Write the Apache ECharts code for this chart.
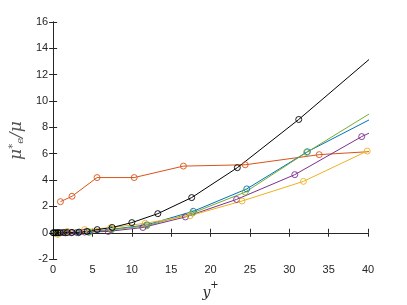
<!DOCTYPE html>
<html><head><meta charset="utf-8">
<script src="https://cdn.jsdelivr.net/npm/echarts@6/dist/echarts.min.js"></script>
<style>html,body{margin:0;padding:0;background:#fff}#c{width:407px;height:305px}</style>
</head><body><div id="c"></div>
<script>
// Data: [y+, mu_e*/mu]
const blackData = [[0,0],[0.15,0],[0.35,0],[0.6,0],[0.9,0.01],[1.3,0.02],[1.8,0.02],[2.4,0.03],[3.3,0.05],[4.3,0.1],[5.6,0.24],[7.5,0.4],[10.0,0.77],[13.3,1.45],[17.6,2.67],[23.4,4.94],[31.2,8.6],[41.5,13.85]];
const orangeData = [[0.93,2.36],[2.4,2.77],[5.58,4.19],[10.3,4.19],[16.55,5.06],[24.4,5.16],[33.8,5.93],[45,6.33]];
const yellowData = [[0.6,-0.12],[1.8,0.1],[4.0,0.24],[7.3,0.38],[11.7,0.72],[17.4,1.3],[24.0,2.41],[31.8,3.9],[39.9,6.2]];
const purpleData = [[0.7,0],[1.6,0],[2.3,0],[3.2,0],[4.0,0.05],[7.0,0.1],[11.4,0.4],[16.8,1.2],[23.3,2.53],[30.7,4.41],[39.2,7.3],[41.5,7.95]];
const blueData = [[0.5,0],[1.5,0],[3.0,0.02],[4.5,0.05],[7.3,0.25],[11.9,0.6],[17.8,1.63],[24.6,3.33],[32.3,6.15],[43,9.45]];
const greenData = [[0.5,0],[1.6,0],[3.1,0.02],[4.6,0.05],[7.4,0.22],[11.9,0.53],[17.7,1.5],[24.4,3.08],[32.2,6.1],[42,9.7]];
const xTicks = [0,5,10,15,20,25,30,35,40];
const yTicks = [-2,0,2,4,6,8,10,12,14,16];

const axisCol = '#262626';
const font = 'Liberation Sans, Helvetica, Arial, sans-serif';
function mk(name, data, color) {
  return {name, type:'line', data, clip:true, symbol:'circle', symbolSize:6,
    lineStyle:{color, width:1},
    itemStyle:{color:'rgba(0,0,0,0)', borderColor:color, borderWidth:0.9}, animation:false};
}
const chart = echarts.init(document.getElementById('c'));
const axBase = {axisLine:{lineStyle:{color:axisCol,width:1}}, splitLine:{show:false}};
chart.setOption({
  animation:false,
  grid:{left:53, right:39, top:22, bottom:34},
  xAxis:[
    Object.assign({type:'value', min:xTicks[0], max:xTicks[xTicks.length-1], interval:5,
      axisTick:{inside:true, length:4, lineStyle:{color:axisCol}},
      axisLabel:{color:axisCol, fontSize:11, fontFamily:font, margin:5},
      name:'{i|y}{s|+}', nameLocation:'middle', nameGap:19,
      nameTextStyle:{rich:{i:{fontFamily:'DejaVu Serif, serif', fontStyle:'italic', fontSize:14, color:axisCol, verticalAlign:'bottom'},
                           s:{fontFamily:'DejaVu Sans, sans-serif', fontSize:10, color:axisCol, verticalAlign:'top', padding:[0,0,10,0]}}}
    }, axBase),
    Object.assign({type:'value', position:'top', min:0, max:40, interval:5,
      axisTick:{inside:true, length:4, lineStyle:{color:axisCol}}, axisLabel:{show:false}}, axBase)
  ],
  yAxis:[
    Object.assign({type:'value', min:yTicks[0], max:yTicks[yTicks.length-1], interval:2,
      axisTick:{inside:true, length:4, lineStyle:{color:axisCol}},
      axisLabel:{color:axisCol, fontSize:11, fontFamily:font, margin:5},
      name:'{m|μ}{sp|*}{sb|e}{m|/μ}', nameLocation:'middle', nameGap:26, nameRotate:90,
      nameTextStyle:{rich:{m:{fontFamily:'DejaVu Serif, serif', fontStyle:'italic', fontSize:17, color:'#555'},
                           sp:{fontFamily:'DejaVu Sans, sans-serif', fontSize:10, color:'#555', verticalAlign:'top'},
                           sb:{fontFamily:'DejaVu Serif, serif', fontStyle:'italic', fontSize:10, color:'#555', verticalAlign:'bottom'}}}
    }, axBase),
    Object.assign({type:'value', position:'right', min:-2, max:16, interval:2,
      axisTick:{inside:true, length:4, lineStyle:{color:axisCol}}, axisLabel:{show:false}}, axBase)
  ],
  series:[
    mk('orange', orangeData, '#D95319'),
    mk('blue', blueData, '#0072BD'),
    mk('green', greenData, '#77AC30'),
    mk('purple', purpleData, '#7E2F8E'),
    mk('yellow', yellowData, '#EDB120'),
    mk('black', blackData, '#000000')
  ]
});
</script></body></html>
